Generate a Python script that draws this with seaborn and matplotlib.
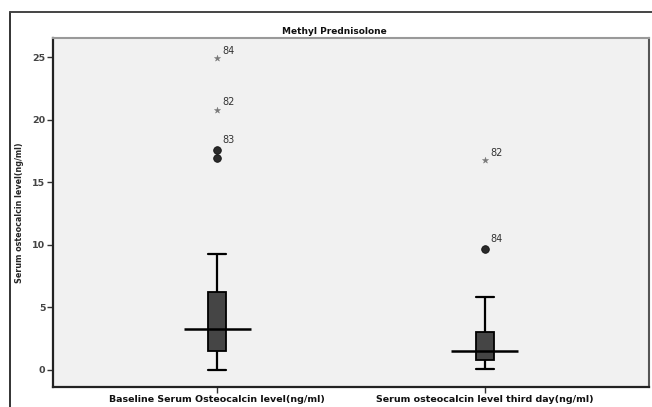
"""SPSS-style boxplot of serum osteocalcin, baseline vs third day."""

import matplotlib

matplotlib.use("Agg")
import matplotlib.pyplot as plt
import pandas as pd
import seaborn as sns
from matplotlib.lines import Line2D

# five-number summaries
GROUPS = [
    "Baseline Serum Osteocalcin level(ng/ml)",
    "Serum osteocalcin level third day(ng/ml)",
]
WHISKER_LOW = [0.0, 0.05]
Q1 = [1.5, 0.82]
MEDIAN = [3.25, 1.54]
Q3 = [6.2, 3.06]
WHISKER_HIGH = [9.3, 5.8]

# outliers (circles) and extremes (stars), with SPSS case labels
OUT_GROUP = [0, 0, 1]
OUT_VALUE = [17.6, 16.9, 9.66]
OUT_LABEL = ["83", "", "84"]
EXT_GROUP = [0, 0, 1]
EXT_VALUE = [24.9, 20.8, 16.75]
EXT_LABEL = ["84", "82", "82"]

TITLE = "Methyl Prednisolone"
YLABEL = "Serum osteocalcin level(ng/ml)"
YTICKS = [0, 5, 10, 15, 20, 25]


def main() -> None:
    sns.set_theme(style="white")
    plt.rcParams["font.family"] = ["DejaVu Sans"]

    fig = plt.figure(figsize=(6.52, 4.07), dpi=100)
    ax = fig.add_axes([53 / 652, 20 / 407, 596 / 652, 349 / 407])
    ax.set_facecolor("#f1f1f1")

    # boxplot built from the five summary values, so quartiles match exactly
    rows = []
    for i, name in enumerate(GROUPS):
        for v in (WHISKER_LOW[i], Q1[i], MEDIAN[i], Q3[i], WHISKER_HIGH[i]):
            rows.append({"group": i, "value": v})
    box_df = pd.DataFrame(rows)

    sns.boxplot(
        data=box_df,
        x="group",
        y="value",
        native_scale=True,
        width=0.067,
        whis=1.5,
        showfliers=False,
        color="#454545",
        linecolor="black",
        linewidth=1.3,
        medianprops={"linewidth": 0},
        capprops={"linewidth": 1.6},
        whiskerprops={"linewidth": 1.6},
        ax=ax,
    )
    # SPSS caps are as wide as the box
    for line in ax.lines:
        xd = line.get_xdata()
        if len(xd) == 2 and xd[0] != xd[1] and line.get_ydata()[0] == line.get_ydata()[1]:
            mid = (xd[0] + xd[1]) / 2
            line.set_xdata([mid - 0.032, mid + 0.032])

    # wide median bars
    ax.hlines(MEDIAN, [g - 0.125 for g in range(len(GROUPS))],
              [g + 0.125 for g in range(len(GROUPS))],
              colors="black", linewidth=1.8, zorder=5)

    out_df = pd.DataFrame({"group": OUT_GROUP, "value": OUT_VALUE})
    sns.scatterplot(data=out_df, x="group", y="value", marker="o", s=30,
                    color="#2a2a2a", edgecolor="#111111", linewidth=0.6,
                    ax=ax, zorder=6, legend=False)
    ext_df = pd.DataFrame({"group": EXT_GROUP, "value": EXT_VALUE})
    sns.scatterplot(data=ext_df, x="group", y="value", marker="*", s=22,
                    color="#777777", edgecolor="#777777", linewidth=0.3,
                    ax=ax, zorder=6, legend=False)

    for g, v, lab in zip(OUT_GROUP, OUT_VALUE, OUT_LABEL):
        if lab:
            ax.annotate(lab, (g, v), xytext=(4, 5), textcoords="offset points",
                        fontsize=7, color="#333333")
    for g, v, lab in zip(EXT_GROUP, EXT_VALUE, EXT_LABEL):
        ax.annotate(lab, (g, v), xytext=(4, 3), textcoords="offset points",
                    fontsize=7, color="#333333")

    ax.set_xlim(-0.612, 1.612)
    ax.set_ylim(-1.36, 26.52)
    ax.set_xticks(range(len(GROUPS)))
    ax.set_xticklabels(GROUPS, fontsize=6.8, fontweight="bold", color="#111111")
    ax.set_yticks(YTICKS)
    ax.set_yticklabels([str(t) for t in YTICKS], fontsize=6.8, fontweight="bold",
                       color="#444444")
    ax.tick_params(axis="both", length=4, width=1, color="#333333",
                   bottom=True, left=True, pad=1.5)
    ax.set_xlabel("")
    ax.set_ylabel(YLABEL, fontsize=5.8, fontweight="bold", labelpad=6)

    ax.spines["left"].set_color("#222222")
    ax.spines["bottom"].set_color("#222222")
    ax.spines["left"].set_linewidth(1.6)
    ax.spines["bottom"].set_linewidth(1.6)
    ax.spines["top"].set_color("#999999")
    ax.spines["right"].set_color("#555555")
    ax.spines["top"].set_linewidth(1.5)
    ax.spines["right"].set_linewidth(1.5)

    fig.text(334 / 652, 1 - 31 / 407, TITLE, ha="center", va="center",
             fontsize=6.5, fontweight="bold", color="#111111")

    # outer chart frame
    fig.add_artist(Line2D([10 / 652, 10 / 652], [1 - 12 / 407, 0], color="#333333",
                          linewidth=1.4, transform=fig.transFigure))
    fig.add_artist(Line2D([10 / 652, 1], [1 - 12 / 407, 1 - 12 / 407],
                          color="#444444", linewidth=1.4, transform=fig.transFigure))

    fig.savefig("out.png", dpi=100)
    plt.close(fig)


if __name__ == "__main__":
    main()
